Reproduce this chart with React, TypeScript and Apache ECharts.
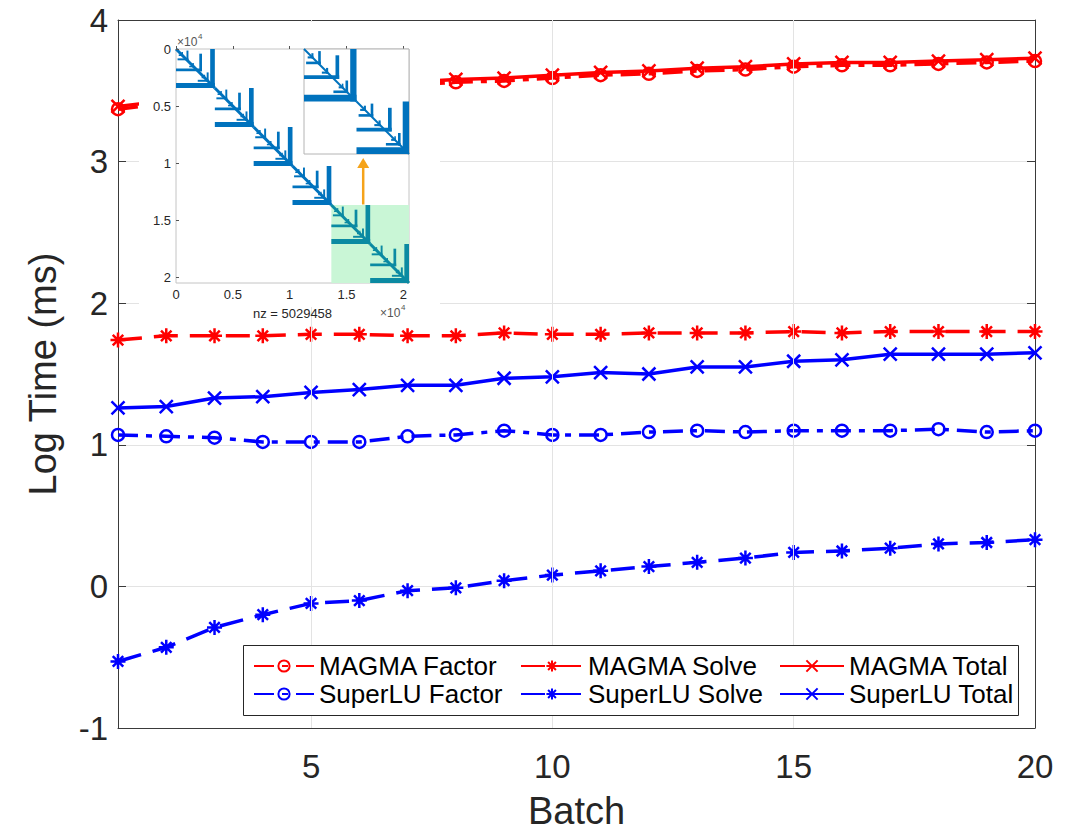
import React, { useEffect, useRef } from 'react';
import * as echarts from 'echarts';

// ---------- main chart data ----------
const batches = [1, 2, 3, 4, 5, 6, 7, 8, 9, 10, 11, 12, 13, 14, 15, 16, 17, 18, 19, 20];
const magmaFactor = [3.37, 3.41, 3.44, 3.47, 3.49, 3.52, 3.54, 3.56, 3.57, 3.59, 3.61, 3.62, 3.64, 3.65, 3.67, 3.68, 3.68, 3.69, 3.70, 3.71];
const magmaSolve = [1.74, 1.77, 1.77, 1.77, 1.78, 1.78, 1.77, 1.77, 1.79, 1.78, 1.78, 1.79, 1.79, 1.79, 1.80, 1.79, 1.80, 1.80, 1.80, 1.80];
const magmaTotal = [3.39, 3.43, 3.46, 3.49, 3.51, 3.54, 3.56, 3.58, 3.59, 3.61, 3.63, 3.64, 3.66, 3.67, 3.69, 3.70, 3.70, 3.71, 3.72, 3.73];
const superluFactor = [1.07, 1.06, 1.05, 1.02, 1.02, 1.02, 1.06, 1.07, 1.10, 1.07, 1.07, 1.09, 1.10, 1.09, 1.10, 1.10, 1.10, 1.11, 1.09, 1.10];
const superluSolve = [-0.53, -0.43, -0.29, -0.20, -0.12, -0.10, -0.03, -0.01, 0.04, 0.08, 0.11, 0.14, 0.17, 0.20, 0.24, 0.25, 0.27, 0.30, 0.31, 0.33];
const superluTotal = [1.26, 1.27, 1.33, 1.34, 1.37, 1.39, 1.42, 1.42, 1.47, 1.48, 1.51, 1.50, 1.55, 1.55, 1.59, 1.60, 1.64, 1.64, 1.64, 1.65];

const xTickValues = [5, 10, 15, 20];
const xGridValues = [5, 10, 15];
const yTickMin = -1;
const yTickMax = 4;

// ---------- inset (spy plot) data, units of 10^4 ----------
const spyN = 2.05;
const spyTicks = [0, 0.5, 1, 1.5, 2];
const spyBlockStarts = [0, 0.3417, 0.6833, 1.025, 1.3667, 1.7083];
const spyBlockSize = 0.3417;
// rectangles in block-relative units [u1, v1, u2, v2] (u = column, v = row)
const spyTemplate = [
  [0.88, 0.0, 1.0, 1.0],
  [0.0, 0.87, 1.0, 1.0],
  [0.6, 0.12, 0.67, 0.57],
  [0.0, 0.5, 0.67, 0.57],
  [0.27, 0.04, 0.32, 0.29],
  [0.04, 0.24, 0.32, 0.29],
  [0.79, 0.6, 0.84, 0.84],
  [0.56, 0.79, 0.84, 0.84],
  [0.42, 0.36, 0.46, 0.47],
  [0.34, 0.43, 0.46, 0.47],
  [0.14, 0.08, 0.18, 0.18],
  [0.07, 0.14, 0.18, 0.18],
  [0.72, 0.66, 0.75, 0.75],
  [0.66, 0.71, 0.75, 0.75],
];
const spyHighlight = [1.3667, 1.3667, 2.05, 2.05];
const spyArrow = [1.647, 1.362, 1.647, 0.955];
const spyNz = 5029458;
const spyZoomRange = [1.3667, 2.05];

const FONT = "'Liberation Sans', Arial, Helvetica, sans-serif";
const RED = '#ff0000';
const BLUE = '#0000ff';
const SPY_BLUE = '#0072bd';
const SPY_TEAL = '#0b8aa2';

const SYM_CIRCLE = 'path://M20,10A10,10,0,1,1,0,10A10,10,0,1,1,20,10Z';
const SYM_STAR = 'path://M0,-10L0,10M-10,0L10,0M-7,-7L7,7M-7,7L7,-7';
const SYM_X = 'path://M-10,-10L10,10M-10,10L10,-10';

const DASH = [24, 12];
const DASHDOT = [20, 8, 6, 8];

function buildSpyItems(blockIdx: number[]) {
  const items: number[][] = [];
  blockIdx.forEach((b) => {
    const s = spyBlockStarts[b];
    const L = spyBlockSize;
    items.push([s, s, s + L, s + L, 1, b]);
    spyTemplate.forEach((t) => {
      items.push([s + t[0] * L, s + t[1] * L, s + t[2] * L, s + t[3] * L, 0, b]);
    });
  });
  return items;
}

function makeSpyRender(colorFn: (b: number) => string, diagWidth: number) {
  return (params: any, api: any) => {
    const x1 = api.value(0);
    const y1 = api.value(1);
    const x2 = api.value(2);
    const y2 = api.value(3);
    const kind = api.value(4);
    const b = api.value(5);
    const p1 = api.coord([x1, y1]);
    const p2 = api.coord([x2, y2]);
    const color = colorFn(b);
    if (kind === 1) {
      return {
        type: 'line',
        shape: { x1: p1[0], y1: p1[1], x2: p2[0], y2: p2[1] },
        style: { stroke: color, lineWidth: diagWidth },
      };
    }
    return {
      type: 'rect',
      shape: {
        x: Math.min(p1[0], p2[0]),
        y: Math.min(p1[1], p2[1]),
        width: Math.max(1, Math.abs(p2[0] - p1[0])),
        height: Math.max(1, Math.abs(p2[1] - p1[1])),
      },
      style: { fill: color },
    };
  };
}

function lineSeries(name: string, values: number[], color: string, dash: any, symbol: string, size: number) {
  return {
    type: 'line',
    name,
    data: batches.map((b, i) => [b, values[i]]),
    xAxisIndex: 0,
    yAxisIndex: 0,
    z: 2,
    symbol,
    symbolSize: size,
    showSymbol: true,
    showAllSymbol: true,
    lineStyle: { color, width: 3.5, type: dash },
    itemStyle: {
      color: symbol === SYM_CIRCLE ? 'rgba(0,0,0,0)' : color,
      borderColor: color,
      borderWidth: 2.5,
    },
    emphasis: { disabled: true },
  };
}

const legendText = { fontFamily: FONT, fontSize: 26, color: '#000' };

export default function App() {
  const ref = useRef<HTMLDivElement>(null);
  useEffect(() => {
    if (!ref.current) return;
    const chart = echarts.init(ref.current, undefined, { renderer: 'svg' });
    const axisColor = '#3a3a3a';
    const textColor = '#262626';
    const option: any = {
      animation: false,
      backgroundColor: '#ffffff',
      grid: [
        { left: 118, top: 20, width: 917, height: 712 },
        {
          left: 176, top: 49, width: 233, height: 234, show: true,
          backgroundColor: '#ffffff', borderColor: '#c4c4c4', borderWidth: 1, z: 55,
        },
        {
          left: 304, top: 49, width: 105, height: 105, show: true,
          backgroundColor: '#ffffff', borderColor: '#b4b4b4', borderWidth: 1, z: 65,
        },
      ],
      xAxis: [
        {
          type: 'value', gridIndex: 0, min: 1, max: 20, interval: 1, position: 'bottom',
          name: 'Batch', nameLocation: 'middle', nameGap: 64,
          nameTextStyle: { fontFamily: FONT, fontSize: 38, color: textColor },
          axisLine: { show: true, onZero: false, lineStyle: { color: axisColor, width: 1 } },
          axisTick: { show: true, inside: true, length: 8, customValues: xTickValues, lineStyle: { color: axisColor } },
          axisLabel: { show: true, customValues: xTickValues, margin: 22, fontFamily: FONT, fontSize: 33, color: textColor },
          splitLine: { show: false },
        },
        {
          type: 'value', gridIndex: 0, min: 1, max: 20, interval: 1, position: 'top',
          axisLine: { show: true, onZero: false, lineStyle: { color: axisColor, width: 1 } },
          axisTick: { show: true, inside: true, length: 8, customValues: xTickValues, lineStyle: { color: axisColor } },
          axisLabel: { show: false },
          splitLine: { show: false },
        },
        {
          type: 'value', gridIndex: 1, min: 0, max: spyN, interval: 0.5, position: 'bottom', z: 60,
          name: 'nz = ' + spyNz, nameLocation: 'middle', nameGap: 24,
          nameTextStyle: { fontFamily: FONT, fontSize: 13, color: textColor },
          axisLine: { show: false },
          axisTick: { show: true, inside: true, length: 3, customValues: spyTicks, lineStyle: { color: '#555' } },
          axisLabel: { show: true, customValues: spyTicks, margin: 5, fontFamily: FONT, fontSize: 13, color: textColor },
          splitLine: { show: false },
        },
        {
          type: 'value', gridIndex: 2, min: spyZoomRange[0], max: spyZoomRange[1], show: false,
        },
      ],
      yAxis: [
        {
          type: 'value', gridIndex: 0, min: yTickMin, max: yTickMax, interval: 1, position: 'left',
          name: 'Log Time (ms)', nameLocation: 'middle', nameGap: 56,
          nameTextStyle: { fontFamily: FONT, fontSize: 38, color: textColor },
          axisLine: { show: true, onZero: false, lineStyle: { color: axisColor, width: 1 } },
          axisTick: { show: true, inside: true, length: 8, lineStyle: { color: axisColor } },
          axisLabel: { show: true, margin: 10, fontFamily: FONT, fontSize: 33, color: textColor },
          splitLine: { show: true, lineStyle: { color: '#e3e3e3', width: 1 } },
        },
        {
          type: 'value', gridIndex: 0, min: yTickMin, max: yTickMax, interval: 1, position: 'right',
          axisLine: { show: true, onZero: false, lineStyle: { color: axisColor, width: 1 } },
          axisTick: { show: true, inside: true, length: 8, lineStyle: { color: axisColor } },
          axisLabel: { show: false },
          splitLine: { show: false },
        },
        {
          type: 'value', gridIndex: 1, min: 0, max: spyN, interval: 0.5, inverse: true, position: 'left', z: 60,
          axisLine: { show: false },
          axisTick: { show: true, inside: true, length: 3, customValues: spyTicks, lineStyle: { color: '#555' } },
          axisLabel: { show: true, customValues: spyTicks, margin: 5, fontFamily: FONT, fontSize: 13, color: textColor },
          splitLine: { show: false },
        },
        {
          type: 'value', gridIndex: 2, min: spyZoomRange[0], max: spyZoomRange[1], inverse: true, show: false,
        },
      ],
      legend: [
        {
          orient: 'vertical', left: 253, top: 653, padding: 0, itemGap: 2, itemWidth: 60, itemHeight: 14,
          data: ['MAGMA Factor', 'SuperLU Factor'], textStyle: legendText, z: 10, selectedMode: false,
        },
        {
          orient: 'vertical', left: 520, top: 653, padding: 0, itemGap: 2, itemWidth: 62, itemHeight: 14,
          data: ['MAGMA Solve', 'SuperLU Solve'], textStyle: legendText, z: 10, selectedMode: false,
        },
        {
          orient: 'vertical', left: 779, top: 653, padding: 0, itemGap: 2, itemWidth: 64, itemHeight: 14,
          data: ['MAGMA Total', 'SuperLU Total'], textStyle: legendText, z: 10, selectedMode: false,
        },
      ],
      graphic: {
        elements: [
          {
            type: 'rect', z: 50, silent: true,
            shape: { x: 139, y: 22, width: 301, height: 285 },
            style: { fill: '#ffffff' },
          },
          {
            type: 'rect', z: 8, silent: true,
            shape: { x: 243.5, y: 645.5, width: 775, height: 70 },
            style: { fill: '#ffffff', stroke: '#262626', lineWidth: 1 },
          },
          {
            type: 'text', z: 70, silent: true, x: 177, y: 36,
            style: { text: '×10', fontFamily: FONT, fontSize: 12, fill: '#555' },
          },
          {
            type: 'text', z: 70, silent: true, x: 198, y: 32,
            style: { text: '4', fontFamily: FONT, fontSize: 8, fill: '#555' },
          },
          {
            type: 'text', z: 70, silent: true, x: 380, y: 307,
            style: { text: '×10', fontFamily: FONT, fontSize: 12, fill: '#555' },
          },
          {
            type: 'text', z: 70, silent: true, x: 401, y: 303,
            style: { text: '4', fontFamily: FONT, fontSize: 8, fill: '#555' },
          },
        ],
      },
      series: [
        {
          type: 'line', name: '_grid', data: [], xAxisIndex: 0, yAxisIndex: 0, z: 1, silent: true, symbol: 'none',
          markLine: {
            silent: true, symbol: ['none', 'none'], label: { show: false },
            lineStyle: { color: '#e3e3e3', width: 1, type: 'solid' },
            emphasis: { disabled: true },
            data: xGridValues.map((v) => ({ xAxis: v })),
          },
        },
        lineSeries('MAGMA Factor', magmaFactor, RED, DASHDOT, SYM_CIRCLE, 12),
        lineSeries('MAGMA Solve', magmaSolve, RED, DASH, SYM_STAR, 15),
        lineSeries('MAGMA Total', magmaTotal, RED, 'solid', SYM_X, 13),
        lineSeries('SuperLU Factor', superluFactor, BLUE, DASHDOT, SYM_CIRCLE, 12),
        lineSeries('SuperLU Solve', superluSolve, BLUE, DASH, SYM_STAR, 15),
        lineSeries('SuperLU Total', superluTotal, BLUE, 'solid', SYM_X, 13),
        {
          type: 'custom', name: '_spyHighlight', xAxisIndex: 2, yAxisIndex: 2, z: 56, silent: true,
          data: [spyHighlight],
          renderItem: (params: any, api: any) => {
            const p1 = api.coord([api.value(0), api.value(1)]);
            const p2 = api.coord([api.value(2), api.value(3)]);
            return {
              type: 'rect',
              shape: { x: p1[0], y: p1[1], width: p2[0] - p1[0], height: p2[1] - p1[1] },
              style: { fill: '#c9f6d6' },
            };
          },
        },
        {
          type: 'custom', name: '_spy', xAxisIndex: 2, yAxisIndex: 2, z: 57, silent: true,
          data: buildSpyItems([0, 1, 2, 3, 4, 5]),
          renderItem: makeSpyRender((b) => (b >= 4 ? SPY_TEAL : SPY_BLUE), 3),
        },
        {
          type: 'custom', name: '_arrow', xAxisIndex: 2, yAxisIndex: 2, z: 58, silent: true,
          data: [spyArrow],
          renderItem: (params: any, api: any) => {
            const p1 = api.coord([api.value(0), api.value(1)]);
            const p2 = api.coord([api.value(2), api.value(3)]);
            const head = 10;
            return {
              type: 'group',
              children: [
                {
                  type: 'line',
                  shape: { x1: p1[0], y1: p1[1], x2: p2[0], y2: p2[1] + head - 1 },
                  style: { stroke: '#f5a31a', lineWidth: 2.5 },
                },
                {
                  type: 'polygon',
                  shape: { points: [[p2[0], p2[1]], [p2[0] - 6, p2[1] + head], [p2[0] + 6, p2[1] + head]] },
                  style: { fill: '#f5a31a' },
                },
              ],
            };
          },
        },
        {
          type: 'custom', name: '_spyZoom', xAxisIndex: 3, yAxisIndex: 3, z: 66, silent: true,
          data: buildSpyItems([4, 5]),
          renderItem: makeSpyRender(() => SPY_BLUE, 2),
        },
      ],
    };
    chart.setOption(option);
    return () => chart.dispose();
  }, []);
  return (
    <div
      ref={ref}
      style={{ position: 'fixed', left: 0, top: 0, width: 1074, height: 835, background: '#fff' }}
    />
  );
}
